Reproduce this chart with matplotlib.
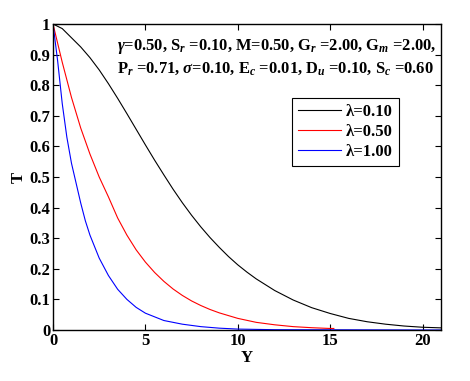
import matplotlib
matplotlib.use("Agg")
import matplotlib.pyplot as plt

# data
y_l1 = [0, 0.5, 1, 1.5, 2, 2.5, 3, 3.5, 4, 4.5, 5, 5.5, 6, 6.5, 7, 7.5, 8, 8.5, 9, 9.5, 10, 10.5, 11,
        12, 13, 14, 15, 16, 17, 18, 19, 20, 21]
t_l1 = [1.0, 0.985, 0.955, 0.925, 0.89, 0.85, 0.805, 0.757, 0.707, 0.656, 0.605, 0.555, 0.507, 0.46, 0.416,
        0.375, 0.337, 0.302, 0.27, 0.24, 0.213, 0.189, 0.167, 0.129, 0.098, 0.073, 0.054, 0.038, 0.027, 0.019,
        0.013, 0.009, 0.007]

y_l2 = [0, 0.5, 1, 1.5, 2, 2.5, 3, 3.5, 4, 4.5, 5, 5.5, 6, 6.5, 7, 7.5, 8, 8.5, 9, 10, 11, 12, 13, 14, 15, 15.2]
t_l2 = [1.0, 0.875, 0.76, 0.66, 0.575, 0.5, 0.435, 0.366, 0.31, 0.262, 0.222, 0.188, 0.159, 0.134, 0.113,
        0.095, 0.08, 0.067, 0.056, 0.038, 0.025, 0.017, 0.011, 0.0075, 0.005, 0.005]

y_l3 = [0, 0.25, 0.5, 0.75, 1, 1.25, 1.5, 1.75, 2, 2.5, 3, 3.5, 4, 4.5, 5, 6, 7, 8, 9, 10, 12, 21]
t_l3 = [1.0, 0.88, 0.74, 0.63, 0.545, 0.48, 0.415, 0.357, 0.31, 0.235, 0.178, 0.133, 0.1, 0.074, 0.055,
        0.031, 0.019, 0.011, 0.006, 0.003, 0.001, 0.0]

labels = ["λ=0.10", "λ=0.50", "λ=1.00"]
colors = ["black", "red", "blue"]

xticks = [0, 5, 10, 15, 20]
yticks = [0, 0.1, 0.2, 0.3, 0.4, 0.5, 0.6, 0.7, 0.8, 0.9, 1]
yticklabels = ["0", "0.1", "0.2", "0.3", "0.4", "0.5", "0.6", "0.7", "0.8", "0.9", "1"]

plt.rcParams['font.family'] = ['Liberation Serif', 'DejaVu Serif']
plt.rcParams['font.weight'] = 'bold'
plt.rcParams['mathtext.fontset'] = 'custom'
plt.rcParams['mathtext.rm'] = 'Liberation Serif:bold'
plt.rcParams['mathtext.it'] = 'Liberation Serif:italic:bold'
plt.rcParams['mathtext.bf'] = 'Liberation Serif:bold'

fig = plt.figure(figsize=(4.7, 3.81), dpi=100)
ax = fig.add_axes([53/470, 1-330/381, 388/470, 306/381])

for yy, tt, lab, c in zip([y_l1, y_l2, y_l3], [t_l1, t_l2, t_l3], labels, colors):
    ax.plot(yy, tt, color=c, lw=0.8, label=lab)

ax.set_xlim(0, 21)
ax.set_ylim(0, 1)
ax.set_xticks(xticks)
ax.set_yticks(yticks)
ax.set_yticklabels(yticklabels)
ax.tick_params(direction='in', top=True, right=True, labelsize=12, length=4, width=0.8, pad=2)
for lbl in ax.get_xticklabels() + ax.get_yticklabels():
    lbl.set_fontweight('bold')
for s in ax.spines.values():
    s.set_linewidth(1.0)

ax.set_xlabel("Y", fontsize=12, fontweight='bold', labelpad=1)
ax.set_ylabel("T", fontsize=12, fontweight='bold', labelpad=2)

line1 = r"$\gamma$=0.50, S$_{r}$ =0.10, M=0.50, G$_{r}$ =2.00, G$_{m}$ =2.00,"
line2 = r"P$_{r}$ =0.71, $\sigma$=0.10, E$_{c}$ =0.01, D$_{u}$ =0.10, S$_{c}$ =0.60"
fig.text(117/470, 1-50/381, line1, fontsize=11.9, fontweight='bold', ha='left', va='baseline')
fig.text(117/470, 1-73/381, line2, fontsize=11.9, fontweight='bold', ha='left', va='baseline')

leg = ax.legend(loc='upper left', bbox_to_anchor=((292-53)/388, (330-98)/306),
                fancybox=False, edgecolor='black', framealpha=1, fontsize=12,
                handlelength=2.6, handletextpad=0.3, borderpad=0.35, labelspacing=0.25,
                borderaxespad=0)
leg.get_frame().set_linewidth(0.8)
for t in leg.get_texts():
    t.set_fontweight('bold')

fig.savefig("out.png", dpi=100)
